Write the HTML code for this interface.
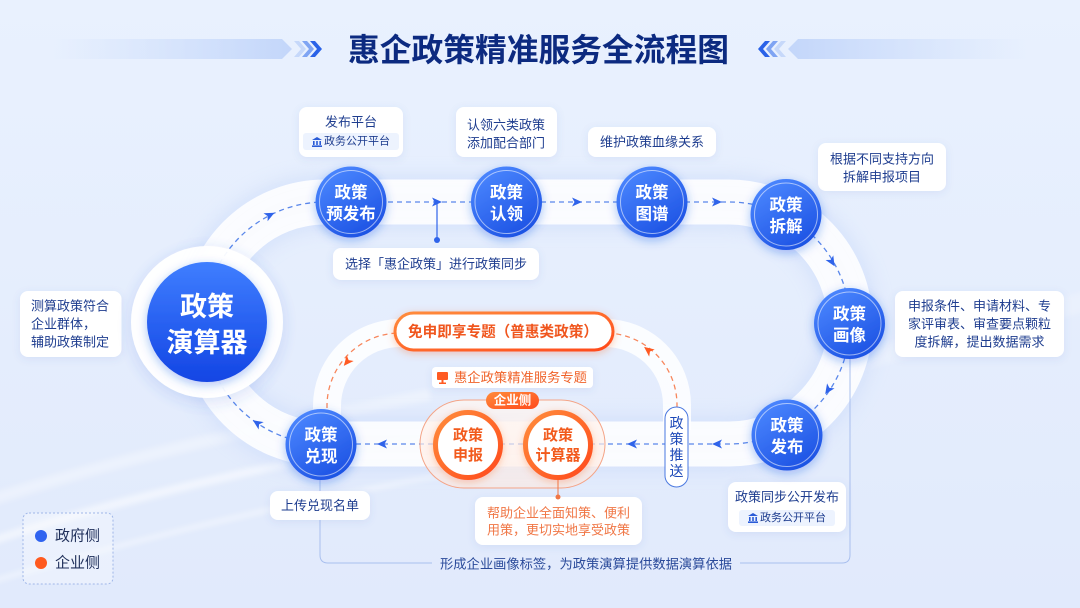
<!DOCTYPE html>
<html><head><meta charset="utf-8">
<style>
html,body{margin:0;padding:0;width:1080px;height:608px;overflow:hidden;background:#e6eefc;}
svg{display:block;font-family:"Liberation Sans","Noto Sans CJK SC",sans-serif;}
</style></head><body>
<svg width="1080" height="608" viewBox="0 0 1080 608" xmlns="http://www.w3.org/2000/svg">
<defs>
<linearGradient id="bg" x1="0" y1="0" x2="0" y2="1">
<stop offset="0" stop-color="#e9f1fe"/><stop offset="1" stop-color="#e1eafc"/>
</linearGradient>
<linearGradient id="ng" x1="0.2" y1="0" x2="0.8" y2="1">
<stop offset="0" stop-color="#4c88ff"/><stop offset="1" stop-color="#1a4fe2"/>
</linearGradient>
<linearGradient id="bigg" x1="0" y1="0" x2="0" y2="1">
<stop offset="0" stop-color="#3f7eff"/><stop offset="1" stop-color="#1345e4"/>
</linearGradient>
<linearGradient id="og" x1="0" y1="0" x2="1" y2="1">
<stop offset="0" stop-color="#ff8c3c"/><stop offset="1" stop-color="#ff4a1c"/>
</linearGradient>
<linearGradient id="gfill" x1="0" y1="0" x2="0" y2="1">
<stop offset="0" stop-color="#fff6f1" stop-opacity="0.75"/><stop offset="1" stop-color="#ffe9df" stop-opacity="0.6"/>
</linearGradient>
<linearGradient id="barL" x1="0" y1="0" x2="1" y2="0">
<stop offset="0" stop-color="#c9dbfb" stop-opacity="0"/><stop offset="1" stop-color="#c3d6fa"/>
</linearGradient>
<linearGradient id="barR" x1="0" y1="0" x2="1" y2="0">
<stop offset="0" stop-color="#c3d6fa"/><stop offset="1" stop-color="#c9dbfb" stop-opacity="0"/>
</linearGradient>
<filter id="nsh" x="-50%" y="-50%" width="200%" height="200%">
<feDropShadow dx="0" dy="3" stdDeviation="5" flood-color="#2456e6" flood-opacity="0.35"/>
</filter>
<filter id="osh" x="-50%" y="-50%" width="200%" height="200%">
<feDropShadow dx="0" dy="2" stdDeviation="4" flood-color="#ff5a20" flood-opacity="0.3"/>
</filter>
<filter id="csh" x="-20%" y="-30%" width="140%" height="160%">
<feDropShadow dx="0" dy="2" stdDeviation="4" flood-color="#4a70c8" flood-opacity="0.10"/>
</filter>
<filter id="bsh" x="-30%" y="-30%" width="160%" height="160%">
<feDropShadow dx="0" dy="4" stdDeviation="8" flood-color="#3a66d8" flood-opacity="0.18"/>
</filter>
<filter id="blur8" x="-20%" y="-20%" width="140%" height="140%"><feGaussianBlur stdDeviation="8"/></filter>
<filter id="blur3" x="-20%" y="-20%" width="140%" height="140%"><feGaussianBlur stdDeviation="3"/></filter>
</defs>

<!-- background -->
<rect width="1080" height="608" fill="url(#bg)"/>
<g fill="none" stroke="#ffffff" filter="url(#blur3)" opacity="0.55">
<path d="M-20,545 Q200,470 560,415" stroke-width="8"/>
<path d="M-20,585 Q260,500 620,445" stroke-width="4"/>
<path d="M-10,500 Q160,445 430,395" stroke-width="12" opacity="0.6"/>
<path d="M860,360 Q980,330 1090,300" stroke-width="20" opacity="0.4"/>
</g>

<!-- title -->
<polygon points="48,39 282,39 292,49 282,59 48,59" fill="url(#barL)"/>
<polygon points="294,41 299,41 306,49 299,57 294,57 301,49" fill="#c6d8fa"/>
<polygon points="302,41 307,41 314,49 307,57 302,57 309,49" fill="#7fa4f3"/>
<polygon points="310,41 315,41 322,49 315,57 310,57 317,49" fill="#2a62e8"/>
<polygon points="1032,39 798,39 788,49 798,59 1032,59" fill="url(#barR)"/>
<polygon points="786,41 781,41 774,49 781,57 786,57 779,49" fill="#c6d8fa"/>
<polygon points="778,41 773,41 766,49 773,57 778,57 771,49" fill="#7fa4f3"/>
<polygon points="770,41 765,41 758,49 765,57 770,57 763,49" fill="#2a62e8"/>
<text x="538.5" y="50" text-anchor="middle" dominant-baseline="central" font-size="32" font-weight="700" fill="#0c2a80" textLength="381" lengthAdjust="spacingAndGlyphs">惠企政策精准服务全流程图</text>

<!-- tracks -->
<path d="M325,202 L729,202 A121,121 0 0 1 729,444 L325,444 A121,121 0 0 1 325,202 Z" fill="none" stroke="#c9d9fa" stroke-width="56" opacity="0.5" filter="url(#blur8)"/>
<path d="M325,202 L729,202 A121,121 0 0 1 729,444 L325,444 A121,121 0 0 1 325,202 Z" fill="none" stroke="#ffffff" stroke-width="45" opacity="0.88"/>
<path d="M327,430 L327,406 A73,73 0 0 1 400,333 L605,333 A72,72 0 0 1 677,405 L677,430" fill="none" stroke="#ffffff" stroke-width="28" opacity="0.85"/>

<!-- dashed connectors -->
<path d="M325,202 L729,202 A121,121 0 0 1 729,444 L325,444 A121,121 0 0 1 325,202 Z" fill="none" stroke="#5a87ea" stroke-width="1.3" stroke-dasharray="5 4"/>
<path d="M327,408 L327,406 A73,73 0 0 1 400,333 L605,333 A72,72 0 0 1 677,405 L677,408" fill="none" stroke="#f7865c" stroke-width="1.3" stroke-dasharray="5 4"/>

<!-- arrows blue -->
<g fill="#2f63ea">
<polygon points="5,0 -5,-4.5 -2.5,0 -5,4.5" transform="translate(437,202)"/>
<polygon points="5,0 -5,-4.5 -2.5,0 -5,4.5" transform="translate(577,202)"/>
<polygon points="5,0 -5,-4.5 -2.5,0 -5,4.5" transform="translate(717,202)"/>
<polygon points="5,0 -5,-4.5 -2.5,0 -5,4.5" transform="translate(832,262) rotate(59)"/>
<polygon points="5,0 -5,-4.5 -2.5,0 -5,4.5" transform="translate(828,390) rotate(124)"/>
<polygon points="5,0 -5,-4.5 -2.5,0 -5,4.5" transform="translate(717,444) rotate(180)"/>
<polygon points="5,0 -5,-4.5 -2.5,0 -5,4.5" transform="translate(632,444) rotate(180)"/>
<polygon points="5,0 -5,-4.5 -2.5,0 -5,4.5" transform="translate(382,444) rotate(180)"/>
<polygon points="5,0 -5,-4.5 -2.5,0 -5,4.5" transform="translate(257,423) rotate(-146)"/>
<polygon points="5,0 -5,-4.5 -2.5,0 -5,4.5" transform="translate(270,215) rotate(-27)"/>
</g>
<g fill="#ff5a22">
<polygon points="5,0 -5,-4.5 -2.5,0 -5,4.5" transform="translate(347,362) rotate(130)"/>
<polygon points="5,0 -5,-4.5 -2.5,0 -5,4.5" transform="translate(648,350) rotate(-142)"/>
</g>

<!-- bottom gray connector -->
<path d="M320,480 L320,555 Q320,563 328,563 L432,563" fill="none" stroke="#a9bfee" stroke-width="1"/>
<path d="M740,563 L842,563 Q850,563 850,555 L850,359" fill="none" stroke="#a9bfee" stroke-width="1"/>
<text x="440" y="564" dominant-baseline="central" font-size="13.3" fill="#2a4a9a" textLength="292" lengthAdjust="spacingAndGlyphs">形成企业画像标签，为政策演算提供数据演算依据</text>

<!-- select connector -->
<line x1="437" y1="202" x2="437" y2="240" stroke="#2f63ea" stroke-width="1.2"/>
<circle cx="437" cy="240" r="3" fill="#2f63ea"/>

<!-- callouts -->
<g filter="url(#csh)" fill="#ffffff">
<rect x="299" y="107" width="104" height="50" rx="8"/>
<rect x="456" y="107" width="101" height="50" rx="8"/>
<rect x="588" y="127" width="128" height="30" rx="8"/>
<rect x="818" y="143" width="128" height="48" rx="8"/>
<rect x="333" y="248" width="206" height="32" rx="8"/>
<rect x="20" y="291" width="101.5" height="66" rx="8"/>
<rect x="895" y="291" width="169" height="66" rx="8"/>
<rect x="728" y="482" width="118" height="50" rx="8"/>
<rect x="270" y="491" width="100" height="29" rx="8"/>
<rect x="475" y="497" width="167" height="48" rx="8"/>
<rect x="432" y="367" width="161" height="21" rx="4"/>
</g>
<rect x="303" y="133" width="96" height="17" rx="3" fill="#edf3fe"/>
<rect x="739" y="510" width="96" height="16" rx="3" fill="#edf3fe"/>
<g fill="#2a5bd7">
<g transform="translate(312,137)"><polygon points="0,3 5,0 10,3"/><rect x="1" y="4" width="1.6" height="4"/><rect x="4.2" y="4" width="1.6" height="4"/><rect x="7.4" y="4" width="1.6" height="4"/><rect x="0" y="8.4" width="10" height="1.6"/></g>
<g transform="translate(748,513)"><polygon points="0,3 5,0 10,3"/><rect x="1" y="4" width="1.6" height="4"/><rect x="4.2" y="4" width="1.6" height="4"/><rect x="7.4" y="4" width="1.6" height="4"/><rect x="0" y="8.4" width="10" height="1.6"/></g>
</g>
<g fill="#1e3d8f" font-size="13" dominant-baseline="central">
<text x="351" y="122" text-anchor="middle">发布平台</text>
<text x="324" y="141.5" font-size="11">政务公开平台</text>
<text x="467" y="125">认领六类政策</text>
<text x="467" y="143">添加配合部门</text>
<text x="652" y="142" text-anchor="middle">维护政策血缘关系</text>
<text x="882" y="159" text-anchor="middle">根据不同支持方向</text>
<text x="882" y="177" text-anchor="middle">拆解申报项目</text>
<text x="436" y="264" text-anchor="middle">选择「惠企政策」进行政策同步</text>
<text x="31" y="306">测算政策符合</text>
<text x="31" y="324">企业群体，</text>
<text x="31" y="342">辅助政策制定</text>
<text x="979.5" y="306" text-anchor="middle">申报条件、申请材料、专</text>
<text x="979.5" y="324" text-anchor="middle">家评审表、审查要点颗粒</text>
<text x="979.5" y="342" text-anchor="middle">度拆解，提出数据需求</text>
<text x="787" y="497" text-anchor="middle">政策同步公开发布</text>
<text x="760" y="518" font-size="11">政务公开平台</text>
<text x="320" y="505.5" text-anchor="middle">上传兑现名单</text>
</g>
<g fill="#f07645" font-size="13" dominant-baseline="central">
<text x="558.5" y="513" text-anchor="middle">帮助企业全面知策、便利</text>
<text x="558.5" y="530" text-anchor="middle">用策，更切实地享受政策</text>
</g>
<!-- monitor icon + label -->
<g fill="#ff5a22">
<rect x="437" y="372" width="11" height="8" rx="1"/>
<rect x="441.5" y="380" width="2" height="2.5"/>
<rect x="439" y="382.5" width="7" height="1.5"/>
</g>
<text x="454" y="377.5" dominant-baseline="central" font-size="13" fill="#f0632a" textLength="133" lengthAdjust="spacingAndGlyphs">惠企政策精准服务专题</text>

<!-- enterprise group -->
<rect x="420" y="400" width="185" height="88" rx="44" fill="url(#gfill)" stroke="#f4a487" stroke-width="1"/>
<line x1="558" y1="480" x2="558" y2="497" stroke="#f07645" stroke-width="1"/>
<circle cx="558" cy="497" r="2.5" fill="#f07645"/>
<g filter="url(#osh)">
<circle cx="468" cy="445" r="32.5" fill="#ffffff" stroke="url(#og)" stroke-width="5"/>
<circle cx="558" cy="445" r="32.5" fill="#ffffff" stroke="url(#og)" stroke-width="5"/>
</g>
<g fill="#f25a1c" font-size="15" font-weight="700" text-anchor="middle" dominant-baseline="central">
<text x="468" y="435.5">政策</text>
<text x="468" y="455.5">申报</text>
<text x="558" y="435.5">政策</text>
<text x="558" y="455.5">计算器</text>
</g>
<rect x="486" y="392" width="53" height="17" rx="8.5" fill="url(#og)"/>
<text x="512.5" y="400.5" text-anchor="middle" dominant-baseline="central" font-size="12.5" font-weight="700" fill="#ffffff">企业侧</text>

<!-- pill -->
<rect x="395" y="313" width="218" height="37" rx="18.5" fill="#ffffff" stroke="url(#og)" stroke-width="3" filter="url(#osh)"/>
<text x="503" y="332" text-anchor="middle" dominant-baseline="central" font-size="15" font-weight="700" fill="#f0561e" textLength="190" lengthAdjust="spacingAndGlyphs">免申即享专题（普惠类政策）</text>

<!-- push label -->
<rect x="665" y="407" width="23" height="80" rx="11.5" fill="#ffffff" stroke="#4a78e0" stroke-width="1"/>
<g fill="#1d49b8" font-size="14" text-anchor="middle" dominant-baseline="central">
<text x="676.5" y="423">政</text>
<text x="676.5" y="439">策</text>
<text x="676.5" y="455">推</text>
<text x="676.5" y="471">送</text>
</g>

<!-- blue nodes -->
<g filter="url(#nsh)" fill="url(#ng)">
<circle cx="351" cy="202" r="35.5"/>
<circle cx="506.5" cy="202" r="35.5"/>
<circle cx="652" cy="202" r="35.5"/>
<circle cx="786" cy="214.5" r="35.5"/>
<circle cx="849.5" cy="323.5" r="35.5"/>
<circle cx="787" cy="435" r="35.5"/>
<circle cx="321" cy="444.5" r="35.5"/>
</g>
<g fill="none" stroke="#ffffff" stroke-opacity="0.55" stroke-width="1">
<circle cx="351" cy="202" r="31.5"/>
<circle cx="506.5" cy="202" r="31.5"/>
<circle cx="652" cy="202" r="31.5"/>
<circle cx="786" cy="214.5" r="31.5"/>
<circle cx="849.5" cy="323.5" r="31.5"/>
<circle cx="787" cy="435" r="31.5"/>
<circle cx="321" cy="444.5" r="31.5"/>
</g>
<g fill="#ffffff" font-size="16.5" font-weight="700" text-anchor="middle" dominant-baseline="central">
<text x="351" y="193">政策</text><text x="351" y="214.5">预发布</text>
<text x="506.5" y="193">政策</text><text x="506.5" y="214.5">认领</text>
<text x="652" y="193">政策</text><text x="652" y="214.5">图谱</text>
<text x="786" y="205.5">政策</text><text x="786" y="227">拆解</text>
<text x="849.5" y="314.5">政策</text><text x="849.5" y="336">画像</text>
<text x="787" y="426">政策</text><text x="787" y="447.5">发布</text>
<text x="321" y="435.5">政策</text><text x="321" y="457">兑现</text>
</g>

<!-- big circle -->
<circle cx="207" cy="322" r="76" fill="#ffffff" opacity="0.95" filter="url(#bsh)"/>
<circle cx="207" cy="322" r="60" fill="url(#bigg)" filter="url(#nsh)"/>
<g fill="#ffffff" font-size="27" font-weight="700" text-anchor="middle" dominant-baseline="central">
<text x="207" y="307">政策</text>
<text x="207" y="343">演算器</text>
</g>

<!-- legend -->
<rect x="23" y="513" width="90" height="71" rx="6" fill="#ffffff" fill-opacity="0.3" stroke="#9fb6e8" stroke-width="1" stroke-dasharray="2 2"/>
<circle cx="41" cy="536" r="6" fill="#2f63f0"/>
<circle cx="41" cy="563" r="6" fill="#ff5a1f"/>
<g fill="#1f2f5a" font-size="15" dominant-baseline="central">
<text x="55" y="536">政府侧</text>
<text x="55" y="563">企业侧</text>
</g>
</svg>
</body></html>
